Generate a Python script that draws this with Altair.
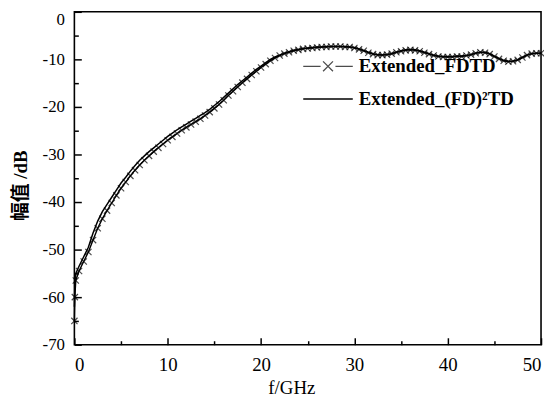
import altair as alt
import pandas as pd

freq_ghz = [0.0, 0.05, 0.15] + [round(0.5 * k, 2) for k in range(1, 101)]

fdtd_db = [-65.0, -60.0, -56.5,
    -54.5, -52.5, -50.5, -48.0, -45.5, -43.5, -41.8, -40.2, -38.6, -37.1,
    -35.8, -34.5, -33.3, -32.2, -31.2, -30.3, -29.4, -28.6, -27.8, -27.0,
    -26.3, -25.6, -24.9, -24.3, -23.7, -23.1, -22.5, -21.8, -21.1, -20.3,
    -19.5, -18.6, -17.6, -16.7, -15.8, -14.9, -14.1, -13.3, -12.5, -11.7,
    -11.0, -10.3, -9.7, -9.2, -8.8, -8.5, -8.2, -8.0, -7.8, -7.7,
    -7.6, -7.5, -7.4, -7.4, -7.3, -7.3, -7.3, -7.4, -7.4, -7.6,
    -7.9, -8.2, -8.6, -8.9, -9.1, -9.1, -9.0, -8.8, -8.5, -8.3,
    -8.1, -8.0, -8.1, -8.3, -8.6, -8.9, -9.2, -9.4, -9.5, -9.5,
    -9.5, -9.4, -9.4, -9.2, -9.0, -8.7, -8.5, -8.6, -8.9, -9.4,
    -9.9, -10.3, -10.5, -10.4, -10.1, -9.6, -9.1, -8.8, -8.7, -8.7]

fd2td_db = [-62.0, -58.0, -55.0,
    -53.5, -51.5, -49.5, -46.5, -44.0, -42.0, -40.5, -39.0, -37.5, -36.0,
    -34.8, -33.5, -32.3, -31.2, -30.3, -29.4, -28.6, -27.8, -27.0, -26.2,
    -25.5, -24.8, -24.2, -23.6, -23.0, -22.4, -21.8, -21.2, -20.5, -19.7,
    -18.9, -18.0, -17.1, -16.2, -15.3, -14.5, -13.7, -12.9, -12.1, -11.4,
    -10.7, -10.0, -9.5, -9.1, -8.7, -8.4, -8.1, -7.9, -7.7, -7.6,
    -7.5, -7.4, -7.4, -7.3, -7.3, -7.3, -7.3, -7.3, -7.4, -7.5,
    -7.8, -8.1, -8.5, -8.8, -9.0, -9.1, -9.0, -8.8, -8.5, -8.2,
    -8.0, -7.9, -8.0, -8.2, -8.5, -8.8, -9.1, -9.3, -9.4, -9.4,
    -9.4, -9.3, -9.3, -9.2, -9.0, -8.7, -8.5, -8.5, -8.8, -9.3,
    -9.8, -10.2, -10.4, -10.4, -10.1, -9.6, -9.1, -8.8, -8.7, -8.7]

series_names = ["Extended_FDTD", "Extended_(FD)\u00b2TD"]
x_major = [0, 10, 20, 30, 40, 50]
x_minor = [5, 15, 25, 35, 45]
y_major = [0, -10, -20, -30, -40, -50, -60, -70]
y_minor = [-5, -15, -25, -35, -45, -55, -65]

df_fdtd = pd.DataFrame({"f": freq_ghz, "v": fdtd_db, "series": series_names[0]})
df_fd2 = pd.DataFrame({"f": freq_ghz, "v": fd2td_db, "series": series_names[1]})
df_all = pd.concat([df_fdtd, df_fd2])

SERIF = "Liberation Serif"
XPATH = "M-1,-1L1,1M-1,1L1,-1"
LEG_X = "M-1,0L-0.3,0M0.3,0L1,0M-0.2,-0.2L0.2,0.2M-0.2,0.2L0.2,-0.2"
HYPHEN_LABEL = "datum.value < 0 ? '-' + abs(datum.value) : '' + datum.value"

xscale = alt.Scale(domain=[0, 50], nice=False, zero=False)
yscale = alt.Scale(domain=[-70, 0], nice=False, zero=False)

x_axis_major = alt.Axis(values=x_major, title="f/GHz", labelFont=SERIF, labelFontSize=19,
                        labelColor="black", labelPadding=18, tickSize={"expr": "-7"},
                        tickColor="black", tickWidth=1.5, domain=False, grid=False,
                        titleFont=SERIF, titleFontSize=19, titleFontWeight="normal",
                        titleColor="black", titleX=219, titleY=43, titleBaseline="middle",
                        orient="bottom", labelFlush=True)
y_axis_major = alt.Axis(values=y_major, title="幅值 /dB", labelFont=SERIF, labelFontSize=17,
                        labelColor="black", labelPadding=17, tickSize={"expr": "-7"},
                        tickColor="black", tickWidth=1.5, domain=False, grid=False,
                        labelExpr=HYPHEN_LABEL,
                        labelBaseline={"condition": {"test": "datum.value == 0", "value": "top"},
                                       "value": "middle"},
                        titleFont=SERIF + ", Noto Sans CJK SC", titleFontSize=19,
                        titleFontWeight="bold", titleColor="black", titleX=-54, titleY=175,
                        titleAngle=-90, titleBaseline="middle", titleAlign="center",
                        orient="left", labelFlush=False)
x_axis_minor = alt.Axis(values=x_minor, title=None, labels=False, tickSize={"expr": "-4"},
                        tickColor="black", tickWidth=1.5, domain=False, grid=False, orient="bottom")
y_axis_minor = alt.Axis(values=y_minor, title=None, labels=False, tickSize={"expr": "-4"},
                        tickColor="black", tickWidth=1.5, domain=False, grid=False, orient="left")

def make_legend(y, symbol_type):
    return alt.Legend(
        title=None, orient="none", legendX=230, legendY=y,
        labelFont=SERIF, labelFontSize=19, labelFontWeight="bold", labelColor="black",
        labelLimit=400, symbolSize=2500, symbolStrokeWidth=1.3, clipHeight=20,
        labelOffset=5, padding=0, symbolType=symbol_type,
        symbolStrokeColor="black", symbolFillColor="transparent",
    )

minor = alt.Chart(df_all).mark_line(opacity=0).encode(
    x=alt.X("f:Q", scale=xscale, axis=x_axis_minor),
    y=alt.Y("v:Q", scale=yscale, axis=y_axis_minor),
    detail="series:N",
)

line_fdtd = alt.Chart(df_fdtd).mark_line(strokeWidth=1.4, color="black").encode(
    x=alt.X("f:Q", scale=xscale, axis=x_axis_major),
    y=alt.Y("v:Q", scale=yscale, axis=y_axis_major),
)

line_fd2 = alt.Chart(df_fd2).mark_line(strokeWidth=1.5).encode(
    x=alt.X("f:Q", scale=xscale, axis=None),
    y=alt.Y("v:Q", scale=yscale, axis=None),
    color=alt.Color("series:N", scale=alt.Scale(domain=[series_names[1]], range=["black"]),
                    legend=make_legend(78, "stroke")),
)

points = alt.Chart(df_fdtd).mark_point(shape=XPATH, filled=False, size=40, strokeWidth=1.2).encode(
    x=alt.X("f:Q", scale=xscale, axis=None),
    y=alt.Y("v:Q", scale=yscale, axis=None),
    color=alt.Color("series:N", scale=alt.Scale(domain=[series_names[0]], range=["black"]),
                    legend=make_legend(45, LEG_X)),
)

chart = alt.layer(minor, line_fdtd, line_fd2, points).resolve_axis(
    x="independent", y="independent"
).resolve_scale(color="independent").resolve_legend(color="independent").properties(
    width=471, height=336, autosize="none",
    padding={"left": 67, "top": 2, "right": 3, "bottom": 58},
    background="white",
).configure_view(stroke="black", strokeWidth=1.6)

chart.save("out.html", embed_options={"renderer": "svg", "actions": False})
